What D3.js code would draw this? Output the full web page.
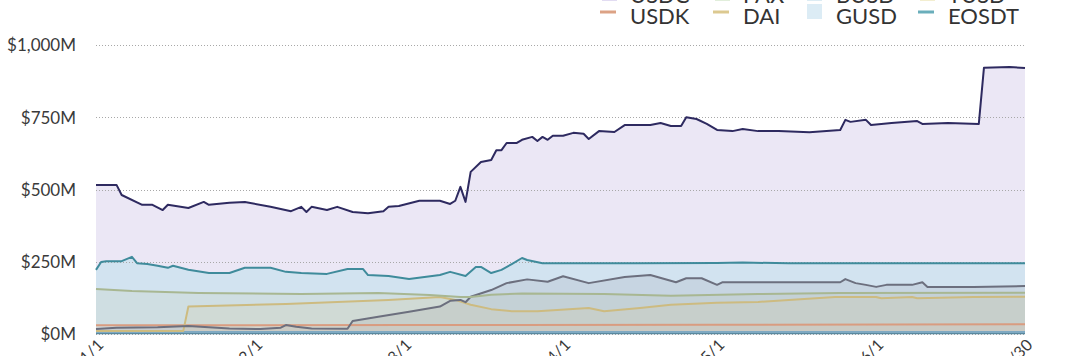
<!DOCTYPE html>
<html>
<head>
<meta charset="utf-8">
<script src="https://cdn.jsdelivr.net/npm/d3@7"></script>
<style>
  html, body { margin: 0; padding: 0; background: #fff; }
  svg { display: block; font-family: Lato, "Open Sans", sans-serif; }
</style>
</head>
<body>
<svg id="chart" width="1068" height="356"></svg>
<script>
// ---------- DATA ----------
const usdc = [
  ["2020-01-01",516],["2020-01-05",516],["2020-01-06",481],["2020-01-10",447],["2020-01-12",447],["2020-01-14",429],["2020-01-15",447],["2020-01-19",436],["2020-01-22",457],["2020-01-23",447],["2020-01-27",454],["2020-01-30",457],["2020-02-04",440],["2020-02-08",425],["2020-02-10",440],["2020-02-11",422],["2020-02-12",440],["2020-02-15",429],["2020-02-17",440],["2020-02-20",422],["2020-02-23",418],["2020-02-26",425],["2020-02-27",440],["2020-02-29",443],["2020-03-04",461],["2020-03-08",461],["2020-03-10",450],["2020-03-11",461],["2020-03-12",509],["2020-03-13",457],["2020-03-14",561],["2020-03-16",595],["2020-03-18",602],["2020-03-19",636],["2020-03-20",636],["2020-03-21",661],["2020-03-23",661],["2020-03-24",672],["2020-03-26",682],["2020-03-27",668],["2020-03-28",682],["2020-03-29",672],["2020-03-30",686],["2020-04-01",686],["2020-04-03",696],["2020-04-05",693],["2020-04-06",675],["2020-04-08",702],["2020-04-11",699],["2020-04-13",723],["2020-04-18",723],["2020-04-20",730],["2020-04-22",720],["2020-04-24",720],["2020-04-25",750],["2020-04-27",744],["2020-04-29",727],["2020-05-01",706],["2020-05-04",702],["2020-05-06",709],["2020-05-09",702],["2020-05-13",702],["2020-05-19",698],["2020-05-25",706],["2020-05-26",741],["2020-05-27",734],["2020-05-30",741],["2020-05-31",723],["2020-06-04",730],["2020-06-09",737],["2020-06-10",727],["2020-06-15",730],["2020-06-21",727],["2020-06-22",921],["2020-06-27",924],["2020-06-30",920]
];
const pax = [
  ["2020-01-01",222],["2020-01-02",249],["2020-01-03",252],["2020-01-06",252],["2020-01-08",267],["2020-01-09",245],["2020-01-11",242],["2020-01-13",236],["2020-01-15",229],["2020-01-16",236],["2020-01-19",222],["2020-01-23",211],["2020-01-27",211],["2020-01-30",229],["2020-02-04",229],["2020-02-07",215],["2020-02-10",211],["2020-02-15",208],["2020-02-19",225],["2020-02-22",225],["2020-02-23",204],["2020-02-27",201],["2020-03-02",190],["2020-03-05",197],["2020-03-08",204],["2020-03-10",215],["2020-03-13",201],["2020-03-15",232],["2020-03-16",232],["2020-03-18",211],["2020-03-20",222],["2020-03-22",242],["2020-03-24",263],["2020-03-25",256],["2020-03-28",245],["2020-04-15",245],["2020-05-01",246],["2020-05-06",247],["2020-05-15",245],["2020-06-01",245],["2020-06-30",245]
];
const tusd = [
  ["2020-01-01",156],["2020-01-08",149],["2020-01-21",142],["2020-02-10",138],["2020-02-25",142],["2020-03-06",135],["2020-03-12",128],["2020-03-14",128],["2020-03-18",136],["2020-03-24",140],["2020-04-09",138],["2020-04-22",132],["2020-05-09",138],["2020-05-25",142],["2020-06-30",143]
];
const busd = [
  ["2020-01-01",17],["2020-01-05",22],["2020-01-13",23],["2020-01-19",28],["2020-01-27",19],["2020-02-02",17],["2020-02-06",22],["2020-02-07",31],["2020-02-09",25],["2020-02-12",19],["2020-02-19",18],["2020-02-20",45],["2020-02-25",60],["2020-03-02",77],["2020-03-08",95],["2020-03-10",115],["2020-03-12",118],["2020-03-13",110],["2020-03-14",129],["2020-03-18",152],["2020-03-21",176],["2020-03-25",189],["2020-03-29",181],["2020-04-01",200],["2020-04-06",176],["2020-04-13",197],["2020-04-18",204],["2020-04-23",179],["2020-04-25",193],["2020-04-28",193],["2020-05-01",170],["2020-05-02",179],["2020-05-09",179],["2020-05-25",179],["2020-05-26",190],["2020-05-28",176],["2020-05-30",170],["2020-06-01",163],["2020-06-03",170],["2020-06-08",170],["2020-06-10",179],["2020-06-11",163],["2020-06-20",163],["2020-06-30",166]
];
const dai = [
  ["2020-01-01",10],["2020-01-18",10],["2020-01-19",95],["2020-02-07",104],["2020-02-27",118],["2020-03-08",128],["2020-03-11",118],["2020-03-14",101],["2020-03-18",86],["2020-03-22",79],["2020-03-27",79],["2020-04-06",90],["2020-04-09",79],["2020-04-16",90],["2020-04-22",101],["2020-05-01",108],["2020-05-09",111],["2020-05-15",118],["2020-05-24",128],["2020-06-01",128],["2020-06-02",124],["2020-06-08",128],["2020-06-09",124],["2020-06-20",128],["2020-06-30",129]
];
const usdk = [["2020-01-01",30],["2020-03-01",31],["2020-05-01",32],["2020-06-30",34]];
const gusd = [["2020-01-01",7],["2020-03-01",7],["2020-06-30",7]];
const eosdt = [["2020-01-01",3],["2020-06-30",3]];

const xTickDates = ["2020-01-01","2020-02-01","2020-03-01","2020-04-01","2020-05-01","2020-06-01","2020-06-30"];
const xTickLabels = ["2020/1/1","2020/2/1","2020/3/1","2020/4/1","2020/5/1","2020/6/1","2020/6/30"];
const yTicks = [0, 250, 500, 750, 1000];
const yTickLabels = ["$0M","$250M","$500M","$750M","$1,000M"];

// legend rows
const legendRow1 = ["USDC","PAX","BUSD","TUSD"];
const legendRow2 = ["USDK","DAI","GUSD","EOSDT"];

// ---------- CHART ----------
const parse = d3.timeParse("%Y-%m-%d");
const svg = d3.select("#chart");

const x = d3.scaleTime()
  .domain([parse("2020-01-01"), parse("2020-06-30")])
  .range([96, 1025]);
const y = d3.scaleLinear().domain([0, 1000]).range([334, 45]);

const series = [
  {name:"USDC",  data:usdc,  line:"#2e2a60", fill:"#ebe7f5", fo:1.0,  w:2},
  {name:"PAX",   data:pax,   line:"#3f8b9b", fill:"#9fd9e6", fo:0.32, w:2},
  {name:"TUSD",  data:tusd,  line:"#a8b792", fill:"#c3cfb0", fo:0.22, w:2},
  {name:"BUSD",  data:busd,  line:"#6c6f7e", fill:"#8d909e", fo:0.16, w:2},
  {name:"DAI",   data:dai,   line:"#cdbb80", fill:"#d9c99a", fo:0.18, w:2},
  {name:"USDK",  data:usdk,  line:"#d99c80", fill:"#e3b49e", fo:0.15, w:2},
  {name:"GUSD",  data:gusd,  line:"#7fa9c2", fill:"#8fbcd6", fo:0.5,  w:2},
  {name:"EOSDT", data:eosdt, line:"#58899f", fill:"#58899f", fo:0.5,  w:2}
];

const area = d3.area()
  .x(d => x(parse(d[0])))
  .y0(y(0))
  .y1(d => y(d[1]));
const line = d3.line()
  .x(d => x(parse(d[0])))
  .y(d => y(d[1]));

const gAreas = svg.append("g");
series.forEach(s => {
  gAreas.append("path")
    .attr("d", area(s.data))
    .attr("fill", s.fill)
    .attr("fill-opacity", s.fo);
});

// grid
const gGrid = svg.append("g");
gGrid.selectAll("line").data(yTicks).join("line")
  .attr("x1", 96).attr("x2", 1025)
  .attr("y1", d => Math.round(y(d)) + 0.5)
  .attr("y2", d => Math.round(y(d)) + 0.5)
  .attr("stroke", "#a8a8a8")
  .attr("stroke-width", 1)
  .attr("stroke-dasharray", "1,2");

// lines
const gLines = svg.append("g");
series.slice().reverse().forEach(s => {
  gLines.append("path")
    .attr("d", line(s.data))
    .attr("fill", "none")
    .attr("stroke", s.line)
    .attr("stroke-width", s.w)
    .attr("stroke-linejoin", "round");
});

// y axis
const yAxis = d3.axisLeft(y)
  .tickValues(yTicks)
  .tickFormat((d, i) => yTickLabels[i])
  .tickSize(0)
  .tickPadding(0);
const gy = svg.append("g").attr("transform", "translate(76,0)").call(yAxis);
gy.select(".domain").remove();
gy.selectAll("text")
  .attr("fill", "#3a3a3a")
  .style("font-size", "17px")
  .style("font-family", "Lato, sans-serif")
  .attr("dy", "0.34em");

// x axis
const xAxis = d3.axisBottom(x)
  .tickValues(xTickDates.map(parse))
  .tickFormat((d, i) => xTickLabels[i])
  .tickSize(0)
  .tickPadding(0);
const gx = svg.append("g").attr("transform", "translate(0,334)").call(xAxis);
gx.select(".domain").remove();
gx.selectAll("text")
  .attr("fill", "#3a3a3a")
  .style("font-size", "16px")
  .style("font-family", "Lato, sans-serif")
  .attr("text-anchor", "end")
  .attr("dy", "0")
  .attr("y", 0)
  .attr("transform", "translate(8,12) rotate(-45)");

// legend
const colX = [600, 713, 805, 918];
const textX = [630, 743, 836, 948];
const row1Style = [
  {type:"patch", color:"#e2dcf2"},
  {type:"patch", color:"#e1eedb"},
  {type:"patch", color:"#dcecf4"},
  {type:"patch", color:"#f3eed0"}
];
const row2Style = [
  {type:"line", color:"#dca285"},
  {type:"line", color:"#dcc990"},
  {type:"patch", color:"#dcecf5"},
  {type:"line", color:"#6aaebb"}
];
const gLeg = svg.append("g").style("font-family", "Lato, sans-serif");
function legendRow(names, styles, baseline, markerY) {
  names.forEach((n, i) => {
    const st = styles[i];
    if (st.type === "patch") {
      gLeg.append("rect")
        .attr("x", colX[i] + 2).attr("y", markerY - 8)
        .attr("width", 15).attr("height", 15)
        .attr("fill", st.color);
    } else {
      gLeg.append("line")
        .attr("x1", colX[i]).attr("x2", colX[i] + 16)
        .attr("y1", markerY).attr("y2", markerY)
        .attr("stroke", st.color).attr("stroke-width", 3);
    }
    gLeg.append("text")
      .attr("x", textX[i]).attr("y", baseline)
      .attr("fill", "#333")
      .style("font-size", "22px")
      .text(n);
  });
}
legendRow(legendRow1, row1Style, 3, -6);
legendRow(legendRow2, row2Style, 24, 12);
</script>
</body>
</html>
